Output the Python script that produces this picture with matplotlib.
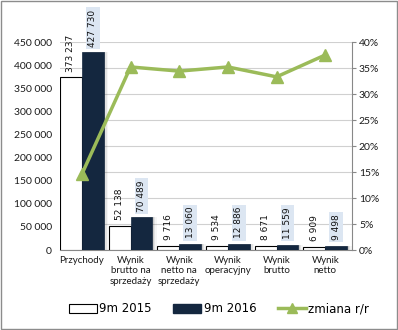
import matplotlib
matplotlib.use("Agg")
import matplotlib.pyplot as plt
import numpy as np
from matplotlib.patches import Rectangle
from matplotlib.ticker import FuncFormatter, MultipleLocator

categories = ["Przychody", "Wynik\nbrutto na\nsprzedaży", "Wynik\nnetto na\nsprzedaży",
              "Wynik\noperacyjny", "Wynik\nbrutto", "Wynik\nnetto"]
v2015 = [373237, 52138, 9716, 9534, 8671, 6909]
v2016 = [427730, 70489, 13060, 12886, 11559, 9498]
change = [14.6, 35.2, 34.4, 35.2, 33.3, 37.5]  # percent

navy = "#14273F"
green = "#9BBB59"
labbg = "#DCE6F2"
tickfont = "Lato"

def fmt(v):
    return f"{v:,.0f}".replace(",", " ")

fig = plt.figure(figsize=(3.98, 3.30), dpi=100)
ax = fig.add_axes([60/398, 1-250/330, 292/398, 208/330])
ax2 = ax.twinx()
ax.set_zorder(ax2.get_zorder() + 1)
ax.patch.set_visible(False)

x = np.arange(len(categories))
w = 0.45

# shadows for dark bars
for k, a in enumerate([0.10, 0.07, 0.04]):
    off = 0.03 * (k + 1)
    ax.bar(x + w/2 + off, np.array(v2016), width=w, color="black", alpha=a,
           linewidth=0, zorder=2)

ax.bar(x - w/2, v2015, width=w, color="white", edgecolor="black", linewidth=0.8, zorder=3)
ax.bar(x + w/2, v2016, width=w, color=navy, edgecolor=navy, linewidth=0.5, zorder=3)

for i in range(len(categories)):
    ax.annotate(fmt(v2015[i]), (x[i] - w/2, v2015[i]), xytext=(0, 4),
                textcoords="offset points", rotation=90, ha="center", va="bottom",
                fontsize=6.5, family="DejaVu Sans", color="#111111", annotation_clip=False, zorder=5)
    ax.annotate(fmt(v2016[i]), (x[i] + w/2, v2016[i]), xytext=(0, 4),
                textcoords="offset points", rotation=90, ha="center", va="bottom",
                fontsize=6.5, family="DejaVu Sans", color="#111111", annotation_clip=False,
                bbox=dict(boxstyle="square,pad=0.25", facecolor=labbg, edgecolor="none"), zorder=5)

ax.set_xlim(-0.45, 5.55)
ax.set_ylim(0, 450000)
ax.yaxis.set_major_locator(MultipleLocator(50000))
ax.yaxis.set_major_formatter(FuncFormatter(lambda v, p: fmt(v)))
ax.set_xticks(x)
ax.set_xticklabels(categories, fontsize=7, family=tickfont, color="#1a1a1a", linespacing=1.25)
ax.tick_params(axis="x", length=0, pad=4)
ax.tick_params(axis="y", length=0, labelsize=7.5, pad=6, colors="#1a1a1a")
for lab in ax.get_yticklabels():
    lab.set_family(tickfont)
for s in ["top", "right", "left"]:
    ax.spines[s].set_visible(False)
ax.spines["bottom"].set_color("#888888")

ax2.set_ylim(0, 40)
ax2.yaxis.set_major_locator(MultipleLocator(5))
ax2.yaxis.set_major_formatter(FuncFormatter(lambda v, p: f"{v:.0f}%"))
ax2.tick_params(axis="y", direction="out", length=3, color="#888888", labelsize=7.5, pad=2,
                labelcolor="#1a1a1a")
for lab in ax2.get_yticklabels():
    lab.set_family(tickfont)
for s in ["top", "left", "bottom"]:
    ax2.spines[s].set_visible(False)
ax2.spines["right"].set_color("#888888")
ax2.grid(axis="y", color="#d0d0d0", linewidth=0.8)
ax2.set_axisbelow(True)

line, = ax.plot(x, np.array(change) / 40 * 450000, color=green, linewidth=2.5,
                marker="^", markersize=8, zorder=6, clip_on=False)

from matplotlib.patches import Patch
from matplotlib.lines import Line2D
handles = [Patch(facecolor="white", edgecolor="black", linewidth=0.8),
           Patch(facecolor=navy, edgecolor=navy),
           Line2D([0], [0], color=green, linewidth=2.5, marker="^", markersize=7)]
fig.legend(handles, ["9m 2015", "9m 2016", "zmiana r/r"], loc="center",
           bbox_to_anchor=(0.55, 1-309/330), ncol=3, frameon=False,
           prop=dict(family="DejaVu Sans", size=8.5), handlelength=2.4,
           handletextpad=0.2, columnspacing=1.8)

fig.patches.append(Rectangle((0.003, 0.003), 0.994, 0.994, transform=fig.transFigure,
                             fill=False, edgecolor="#8c8c8c", linewidth=1))

fig.savefig("out.png", dpi=100)
